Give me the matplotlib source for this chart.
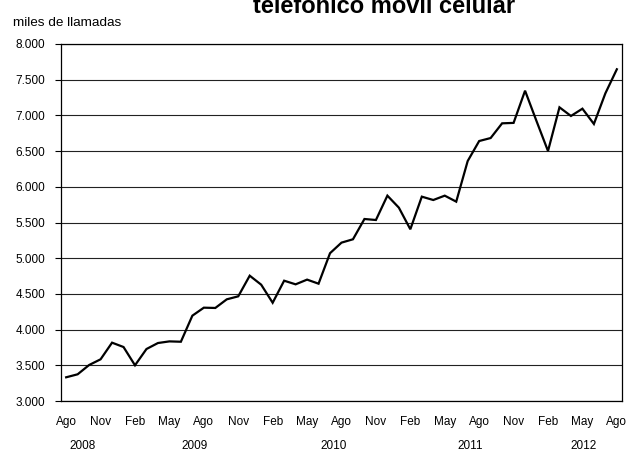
import matplotlib
matplotlib.use('Agg')
import matplotlib.pyplot as plt
import numpy as np

plt.rcParams['font.family'] = ['Liberation Sans', 'DejaVu Sans']

# monthly values, Ago 2008 .. Ago 2012 (miles de llamadas)
llamadas = [3332, 3374, 3504, 3584, 3817, 3756, 3500, 3728, 3812, 3835,
            3830, 4195, 4307, 4303, 4424, 4466, 4755, 4629, 4376, 4685,
            4634, 4700, 4643, 5070, 5218, 5265, 5549, 5535, 5876, 5708,
            5405, 5862, 5815, 5876, 5792, 6361, 6641, 6683, 6889, 6895,
            7346, 6920, 6501, 7113, 6992, 7094, 6880, 7309, 7646]
meses = ['Ago', 'Nov', 'Feb', 'May'] * 4 + ['Ago']
anios = ['2008', '2009', '2010', '2011', '2012']
anio_pos = [1.4, 11.2, 23.3, 35.2, 45.1]  # where the year labels sit (month index)
yticks = [3000, 3500, 4000, 4500, 5000, 5500, 6000, 6500, 7000, 7500, 8000]

fig = plt.figure(figsize=(6.38, 4.55), dpi=100)
ax = fig.add_axes([61/638, 1 - 401/455, (622-61)/638, (401-44)/455])

x = np.arange(len(llamadas))
ax.plot(x, llamadas, color='black', lw=1.6, solid_joinstyle='miter')

ax.set_xlim(-0.45, len(llamadas) - 1 + 0.45)
ax.set_ylim(3000, 8000)
ax.set_yticks(yticks)
ax.set_yticklabels([f'{v:,}'.replace(',', '.') for v in yticks], fontsize=8.5)
ax.yaxis.grid(True, color='#222222', lw=0.8)
ax.set_axisbelow(True)
ax.tick_params(axis='y', length=4.5, width=0.8, pad=7)

ax.set_xticks(x[::3])
ax.set_xticklabels(meses, fontsize=8.5)
ax.tick_params(axis='x', length=0, pad=11)

for s in ax.spines.values():
    s.set_color('black')
    s.set_linewidth(0.9)

for lab, p in zip(anios, anio_pos):
    ax.text(p, -0.125, lab, transform=ax.get_xaxis_transform(),
            ha='center', va='center', fontsize=8.5)

fig.text(13/638, 1 - 23/455, 'miles de llamadas', fontsize=9.7, ha='left', va='center')
# title sits partly above the canvas, as in the source image
fig.text(384/638, 1 - 13/455, 'telefónico móvil celular', fontsize=17,
         fontweight='bold', ha='center', va='baseline')

fig.savefig('out.png', dpi=100)
